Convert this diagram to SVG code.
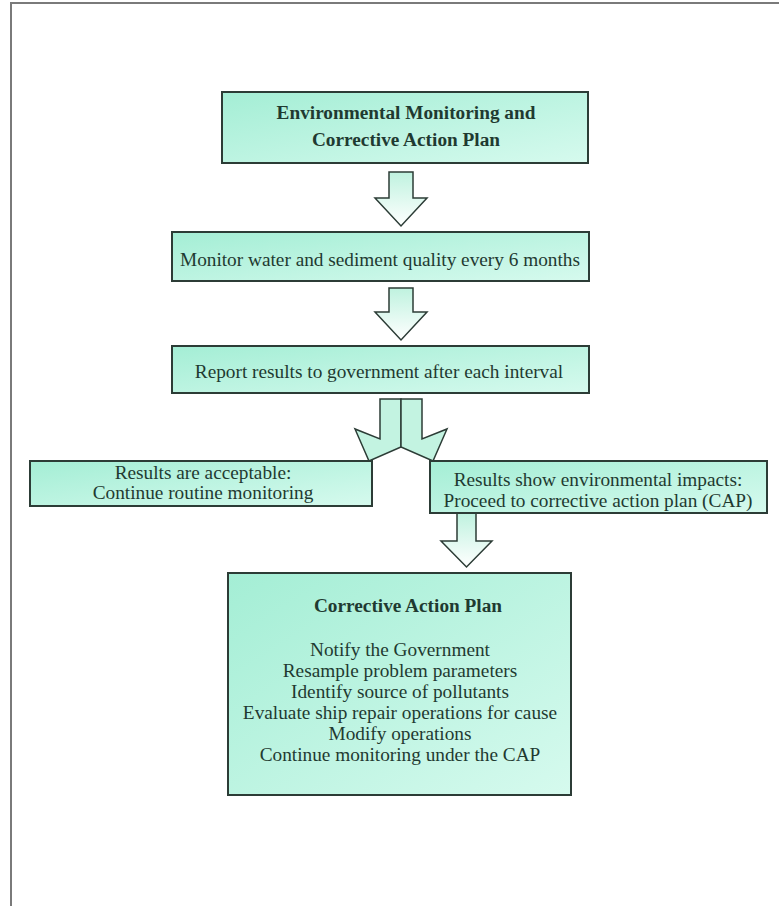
<svg xmlns="http://www.w3.org/2000/svg" width="779" height="906" viewBox="0 0 779 906">
<defs>
<linearGradient id="boxfill" x1="0" y1="0" x2="1" y2="1">
<stop offset="0" stop-color="#a4eed5"/>
<stop offset="1" stop-color="#d6faee"/>
</linearGradient>
<linearGradient id="arrowfill" x1="0" y1="0" x2="0" y2="1">
<stop offset="0" stop-color="#bff2df"/>
<stop offset="1" stop-color="#ffffff"/>
</linearGradient>
<style>
.box{fill:url(#boxfill);stroke:#2c3c36;stroke-width:2}
.arrow{fill:url(#arrowfill);stroke:#2c3c36;stroke-width:1.5;stroke-linejoin:miter}
.split{fill:#c3f3e1;stroke:#2c3c36;stroke-width:1.5}
.t{font-family:"Liberation Serif","Times New Roman",serif;font-size:19.3px;fill:#1f3a31;text-anchor:middle}
.b{font-weight:bold}
</style>
</defs>
<rect width="779" height="906" fill="#ffffff"/>
<path d="M11,906 V3 H779" fill="none" stroke="#7a7a7a" stroke-width="2"/>

<g id="connectors">
<polygon class="arrow" points="389,172 413,172 413,198 427,198 401,226 375,198 389,198"/>
<polygon class="arrow" points="389,288 413,288 413,312 427,312 401,340 375,312 389,312"/>
<polygon class="split" points="401,399 380,399 380,439 355,429 369,461 401,447"/>
<polygon class="split" points="401,399 422,399 422,439 447,429 433,461 401,447"/>
<polygon class="arrow" points="457,513 476,513 476,541 492,541 466.5,567 441,541 457,541"/>
</g>

<g id="node-title">
<rect class="box" x="222" y="92" width="366" height="71"/>
<text class="t b" x="406" y="119" font-size="21">Environmental Monitoring and</text>
<text class="t b" x="406" y="146" font-size="21">Corrective Action Plan</text>
</g>

<g id="node-monitor">
<rect class="box" x="172" y="232" width="417" height="49"/>
<text class="t" x="380" y="266" font-size="19">Monitor water and sediment quality every 6 months</text>
</g>

<g id="node-report">
<rect class="box" x="172" y="346" width="417" height="47"/>
<text class="t" x="379" y="378" font-size="18.2">Report results to government after each interval</text>
</g>

<g id="node-acceptable">
<rect class="box" x="30" y="461" width="342" height="45"/>
<text class="t" x="203" y="479" font-size="16.5">Results are acceptable:</text>
<text class="t" x="203" y="499" font-size="16.5">Continue routine monitoring</text>
</g>

<g id="node-impacts">
<rect class="box" x="430" y="461" width="337" height="52"/>
<text class="t" x="598" y="486" font-size="20.3">Results show environmental impacts:</text>
<text class="t" x="598" y="507" font-size="20.3">Proceed to corrective action plan (CAP)</text>
</g>

<g id="node-cap">
<rect class="box" x="228" y="573" width="343" height="222"/>
<text class="t b" x="408" y="612" font-size="16">Corrective Action Plan</text>
<text class="t" x="400" y="656">Notify the Government</text>
<text class="t" x="400" y="677">Resample problem parameters</text>
<text class="t" x="400" y="698">Identify source of pollutants</text>
<text class="t" x="400" y="719">Evaluate ship repair operations for cause</text>
<text class="t" x="400" y="740">Modify operations</text>
<text class="t" x="400" y="761">Continue monitoring under the CAP</text>
</g>
</svg>
